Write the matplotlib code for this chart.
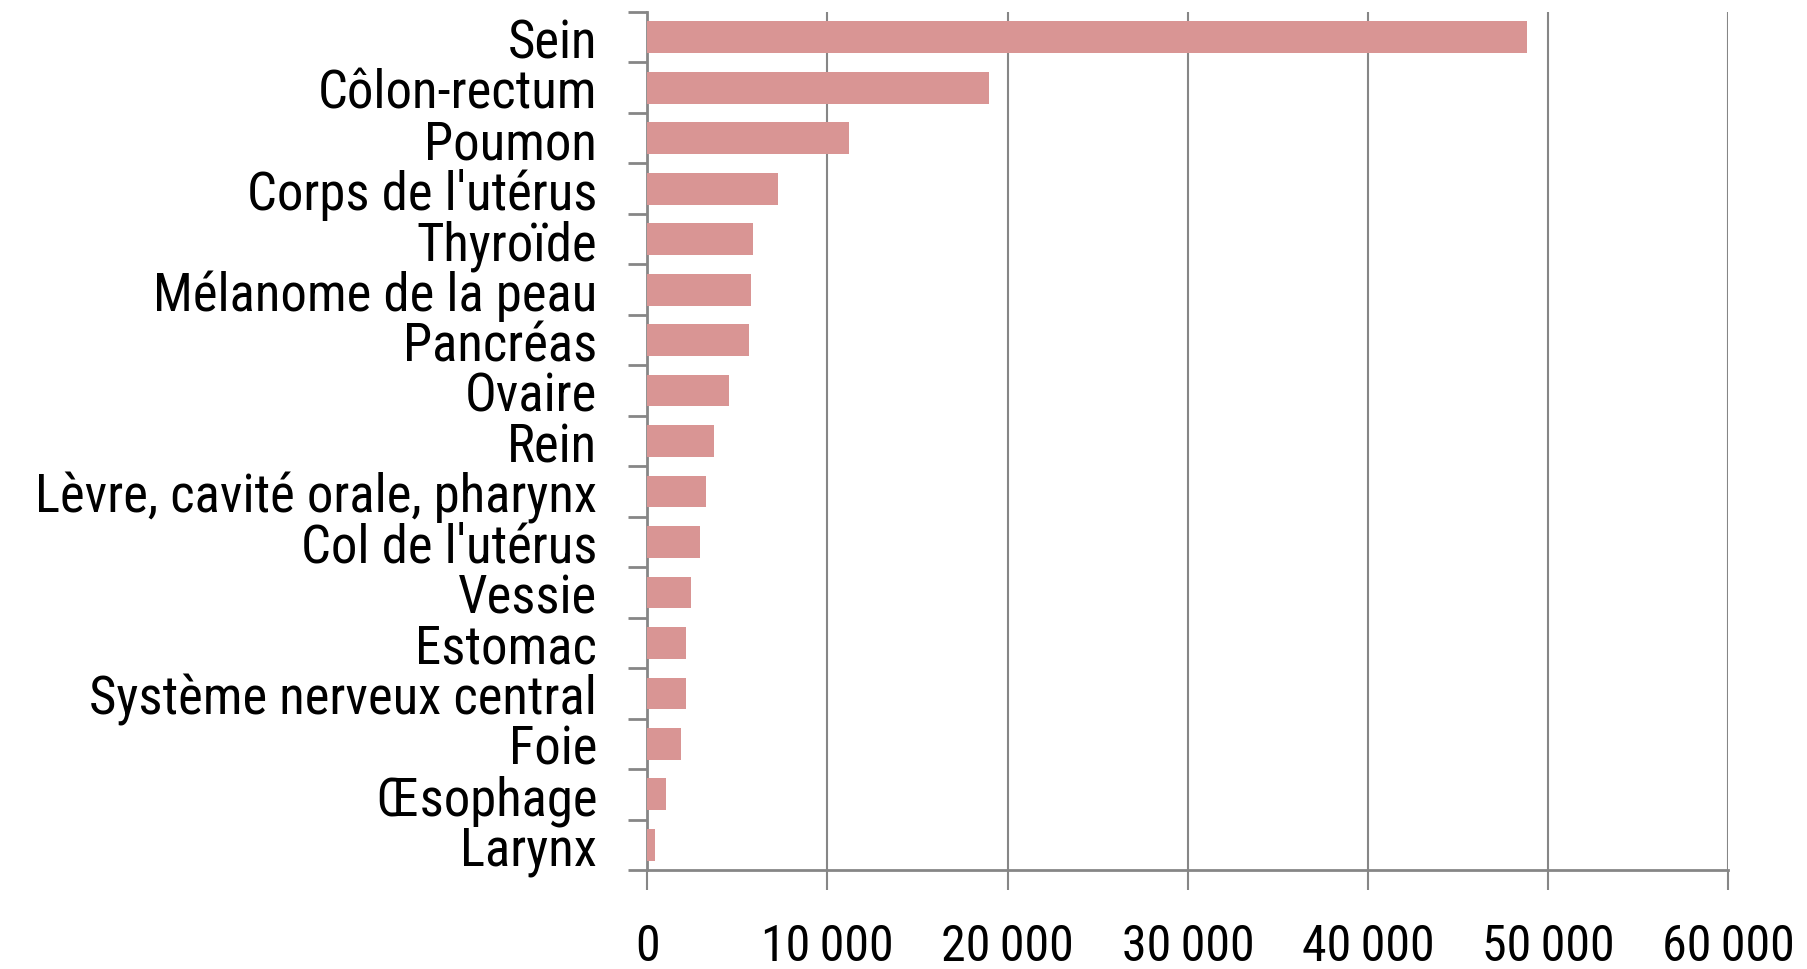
import numpy as np
import matplotlib
matplotlib.use("Agg")
from matplotlib import pyplot as plt
from matplotlib.ticker import FuncFormatter

localisations = ["Sein", "Côlon-rectum", "Poumon", "Corps de l'utérus", "Thyroïde",
                 "Mélanome de la peau", "Pancréas", "Ovaire", "Rein",
                 "Lèvre, cavité orale, pharynx", "Col de l'utérus", "Vessie", "Estomac",
                 "Système nerveux central", "Foie", "Œsophage", "Larynx"]
cas = [48800, 18940, 11170, 7280, 5890, 5770, 5620, 4550, 3710,
       3270, 2940, 2430, 2170, 2160, 1850, 1050, 450]
xticks = [0, 10000, 20000, 30000, 40000, 50000, 60000]

plt.rcParams['font.family'] = ['Roboto Condensed', 'Lato', 'DejaVu Sans']
grey = "#868686"

fig = plt.figure(figsize=(18.08, 9.70), dpi=100)
ax = fig.add_axes([0.358, 0.102, 0.598, 0.8846])

y = np.arange(len(localisations))
ax.barh(y, cas, height=0.63, color="#D99594", zorder=3)
ax.set_ylim(len(localisations) - 0.5, -0.5)
ax.set_xlim(0, 60000)

# category boundaries as major ticks, names on minor ticks (Excel style)
ax.set_yticks(np.arange(-0.5, len(localisations) + 0.5, 1))
ax.set_yticklabels([])
ax.set_yticks(y, minor=True)
ax.set_yticklabels(localisations, minor=True, fontsize=38)
ax.tick_params(axis="y", which="major", length=13.7, width=2, color=grey, direction="out")
ax.tick_params(axis="y", which="minor", length=0, pad=36)

ax.set_xticks(xticks)
ax.xaxis.set_major_formatter(FuncFormatter(lambda v, p: f"{int(v):,}".replace(",", "\u2009")))
ax.tick_params(axis="x", length=14.4, width=1.5, color=grey, pad=23, labelsize=36)
ax.grid(axis="x", color=grey, linewidth=1.5, zorder=0)

for s in ["top", "right"]:
    ax.spines[s].set_visible(False)
for s in ["left", "bottom"]:
    ax.spines[s].set_color(grey)
    ax.spines[s].set_linewidth(2)

fig.savefig("out.png", dpi=100)
